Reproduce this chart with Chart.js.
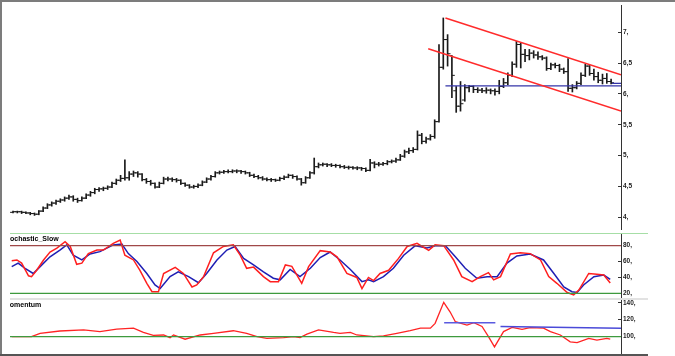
<!DOCTYPE html>
<html><head><meta charset="utf-8">
<script src="https://cdn.jsdelivr.net/npm/chart.js@4.4.1/dist/chart.umd.min.js"></script>
<style>
body{margin:0;width:675px;height:356px;overflow:hidden;background:#fff;position:relative;font-family:"Liberation Sans",Arial,sans-serif}
.abs{position:absolute}
canvas{position:absolute;left:0}
.lbl{position:absolute;left:10px;width:90px;height:9px;overflow:hidden;font:bold 7px "Liberation Sans",Arial,sans-serif;line-height:9px;color:#000;white-space:nowrap}
</style></head><body>
<div class="abs" style="left:0;top:0;width:675px;height:2px;background:#7c7c7c"></div>
<div class="abs" style="left:0;top:0;width:2px;height:356px;background:#7c7c7c"></div>
<div class="abs" style="left:0;top:354px;width:648px;height:2px;background:#555"></div>
<div class="abs" style="left:10px;top:233px;width:638px;height:1px;background:#a6dea6"></div>
<div class="abs" style="left:10px;top:298px;width:638px;height:2px;background:#e2e2e2"></div>
<canvas id="cPrice" width="648" height="234" style="top:0"></canvas>
<canvas id="cStoch" width="648" height="64" style="top:234px"></canvas>
<canvas id="cMom" width="648" height="54" style="top:300px"></canvas>
<div class="lbl" style="top:234px"><span style="margin-left:-7px">Stochastic_Slow</span></div>
<div class="lbl" style="top:300px"><span style="margin-left:-6px">Momentum</span></div>
<script>
// ---------- DATA ----------
const barCount = 140;
const open = [4.08,4.09,4.09,4.08,4.07,4.06,4.05,4.10,4.15,4.20, 4.23,4.26,4.28,4.31,4.33,4.29,4.27,4.31,4.36,4.40,
 4.45,4.46,4.47,4.49,4.55,4.60,4.63,4.64,4.70,4.72, 4.70,4.61,4.58,4.55,4.49,4.55,4.62,4.62,4.61,4.60,
 4.55,4.52,4.49,4.50,4.52,4.57,4.62,4.66,4.72,4.73, 4.74,4.74,4.75,4.75,4.74,4.72,4.68,4.66,4.64,4.62,
 4.61,4.61,4.60,4.63,4.65,4.68,4.66,4.62,4.56,4.64, 4.72,4.82,4.85,4.86,4.85,4.84,4.84,4.82,4.81,4.81,
 4.80,4.80,4.79,4.76,4.88,4.86,4.86,4.87,4.90,4.91, 4.93,4.99,5.06,5.08,5.10,5.33,5.23,5.27,5.31,5.55,
 6.43,6.88,6.62,6.05,5.80,5.90,6.10,6.12,6.07,6.06, 6.05,6.06,6.05,6.04,6.12,6.18,6.30,6.48,6.80,6.64,
 6.62,6.66,6.63,6.60,6.58,6.41,6.47,6.46,6.40,6.36, 6.09,6.10,6.17,6.30,6.45,6.33,6.28,6.22,6.25,6.20];
const high = [4.10,4.10,4.10,4.09,4.08,4.07,4.11,4.17,4.22,4.25, 4.28,4.30,4.33,4.36,4.35,4.31,4.33,4.38,4.42,4.47,
 4.48,4.49,4.51,4.57,4.62,4.68,4.93,4.74,4.75,4.74, 4.71,4.63,4.60,4.56,4.57,4.65,4.65,4.64,4.63,4.61,
 4.56,4.53,4.52,4.54,4.59,4.64,4.68,4.74,4.75,4.76, 4.77,4.77,4.77,4.76,4.75,4.73,4.70,4.68,4.66,4.64,
 4.63,4.62,4.65,4.67,4.70,4.69,4.67,4.63,4.66,4.74, 4.96,4.88,4.88,4.87,4.87,4.86,4.85,4.84,4.83,4.82,
 4.82,4.81,4.80,4.94,4.90,4.89,4.89,4.92,4.93,4.96, 5.02,5.09,5.12,5.13,5.40,5.36,5.30,5.34,5.58,6.80,
 7.23,6.96,6.62,6.12,6.20,6.15,6.14,6.13,6.10,6.09, 6.10,6.08,6.08,6.22,6.25,6.34,6.52,6.85,6.82,6.72,
 6.72,6.70,6.68,6.62,6.60,6.50,6.50,6.48,6.42,6.57, 6.15,6.20,6.34,6.48,6.46,6.40,6.35,6.32,6.33,6.24];
const low = [4.07,4.07,4.06,4.06,4.04,4.03,4.04,4.09,4.14,4.18, 4.21,4.24,4.26,4.29,4.26,4.24,4.26,4.30,4.34,4.38,
 4.42,4.43,4.45,4.48,4.53,4.58,4.60,4.60,4.66,4.65, 4.59,4.55,4.52,4.47,4.48,4.54,4.59,4.58,4.57,4.53,
 4.50,4.47,4.47,4.48,4.51,4.56,4.60,4.65,4.70,4.71, 4.72,4.72,4.72,4.71,4.70,4.66,4.64,4.62,4.60,4.59,
 4.58,4.58,4.59,4.61,4.64,4.63,4.60,4.52,4.55,4.63, 4.70,4.80,4.83,4.82,4.82,4.81,4.80,4.79,4.78,4.78,
 4.77,4.76,4.74,4.75,4.80,4.83,4.84,4.85,4.88,4.89, 4.92,4.97,5.03,5.05,5.09,5.19,5.20,5.25,5.28,5.54,
 6.40,6.45,5.94,5.70,5.72,5.88,6.03,6.02,6.02,6.02, 6.01,6.00,5.98,6.00,6.10,6.15,6.28,6.43,6.42,6.52,
 6.55,6.58,6.56,6.55,6.38,6.39,6.42,6.36,6.33,6.04, 6.03,6.08,6.15,6.28,6.30,6.22,6.18,6.16,6.17,6.16];
const close = [4.09,4.09,4.08,4.07,4.06,4.05,4.10,4.15,4.20,4.23, 4.26,4.28,4.31,4.33,4.29,4.27,4.31,4.36,4.40,4.45,
 4.46,4.47,4.49,4.55,4.60,4.63,4.64,4.70,4.72,4.70, 4.61,4.58,4.55,4.49,4.55,4.62,4.62,4.61,4.60,4.55,
 4.52,4.49,4.50,4.52,4.57,4.62,4.66,4.72,4.73,4.74, 4.74,4.75,4.75,4.74,4.72,4.68,4.66,4.64,4.62,4.61,
 4.61,4.60,4.63,4.65,4.68,4.66,4.62,4.56,4.64,4.72, 4.82,4.85,4.86,4.85,4.84,4.84,4.82,4.81,4.81,4.80,
 4.80,4.79,4.76,4.88,4.86,4.86,4.87,4.90,4.91,4.93, 4.99,5.06,5.08,5.10,5.33,5.23,5.27,5.31,5.55,6.43,
 6.88,6.65,6.30,5.80,5.84,6.10,6.12,6.07,6.06,6.05, 6.06,6.05,6.04,6.12,6.18,6.30,6.48,6.80,6.64,6.62,
 6.66,6.63,6.60,6.58,6.41,6.47,6.46,6.40,6.36,6.09, 6.10,6.17,6.30,6.45,6.33,6.28,6.22,6.25,6.20,6.18];

// trend lines (bar position, price)
const upperChannel = [[100.5,7.23],[141.3,6.31]];
const lowerChannel = [[96.5,6.73],[141.3,5.72]];
const supportLine  = [[100.5,6.13],[141.3,6.13]];
const supportLine2 = [[139.2,6.17],[141.3,6.17]];

// Stochastic slow (bar position, value)
const stochKPos = [-0.3,0.9,2.0,3.6,4.3,5.5,7.1,8.6,10.2,12.1,13.3,14.8,16,17.5,19.5,21,23.3,24.9,26,28,29.5,31.1,32.3,33.8,35,37.7,39.6,41.6,42.7,44.3,46.6,48.9,51.2,52.8,54.3,55.9,58.2,59.8,61.7,63.3,64.8,67.1,68.7,71.4,73.7,75.3,77.6,79.9,81.1,82.6,83.8,85.3,87.3,89.6,91.6,93.9,96.6,98.1,100.1,102.4,104.3,106.7,108.6,110.5,111.7,113.3,115.6,117.9,120.2,122.6,124.5,126.4,128.8,130.3,131.5,133.8,135.7,137.3,138.8];
const stochK    = [61,62,58,42,41,49,62,72,77,85,79,56.5,58,70,74.5,74.5,83,87,68,62,49,32.6,22,22,45,52.7,45,28,30.5,41,71,79,81,68,51.5,53,41,34.7,34.7,55.7,54,32.6,53.6,73.7,72,66,45,40,26,40,36,45,49,64,79,83,74,81,80,62,41,34.7,41,46,37,41,69.5,71,70,62,41,32.6,21,18,24,45,44,43,33];
const stochDPos = [-0.3,1.2,2.8,4.7,6.3,8.6,10.9,12.5,14,16,17.9,20.2,23.3,25.3,26.8,28.8,31.1,33,34.2,36.5,38.4,40.8,43.1,45,47.4,49.7,51.6,53.6,55.9,58.2,60.5,62.1,64.4,66.7,69.1,71.4,73.7,76,78.4,81.1,82.6,83.8,86.1,88.4,90.8,93.5,96.2,98.1,100.5,102.8,105.1,107.8,110.2,112.5,114.8,117.1,120.2,123.3,125.7,128,129.9,131.1,132.6,135,137.3,138.8];
const stochD    = [53.6,58,51.5,45,53.6,66,74.5,81,68,62,69.5,72.5,81,82,70,60,45,30.5,26,41,47,41,33.4,45,62,74.5,79,64,55.7,47,39,37,50,41,51.5,65,72,62,50,34.7,37,34.7,41,51.5,68,80,77,80,80,66,51.5,39,41,41,58,67,69.5,62,45,28,22,21,30.5,41,43,37.6];
const stochTicks = [20,40,60,80];
const stochTickLabels = ['20,','40,','60,','80,'];
const stochUpper = 80, stochLower = 20;

// Momentum (bar position, value)
const momPos = [-0.3,4.3,6.3,10.9,16.4,20.2,24.1,28,30.3,32.6,35,36.5,37.3,40,43.5,46.6,51.2,54.3,56.7,59,62.9,65.2,66.7,68.3,71,74.5,76,78.4,79.9,83.8,86.1,89.2,92.3,94.7,97,98.1,100.1,101.6,102.8,105.5,107.1,109,110.5,111.9,114,116,118.3,120.2,123.3,124.9,127.2,129.5,131.1,133.8,135.7,138,138.8];
const momVal = [100,100,104,106.7,108,106,109,110,105,101.5,102,98.8,102,97,102,104,107,104,100,98,99,100,98.8,103,108,105,104,105,102,100,101,104,107,110,110,115.7,140.5,129,117.6,113.7,116.5,112,100,88,106,111,108.6,110.6,110,106,102,94,93,98,96,98,97];
const momBase = 100;
const momLine1 = [[100.2,116.5],[112.1,116.5]];
const momLine2 = [[113.3,112],[141.3,110]];
const momTicks = [100,120,140];
const momTickLabels = ['100,','120,','140,'];

const priceTicks = [4,4.5,5,5.5,6,6.5,7];
const priceTickLabels = ['4,','4,5','5,','5,5','6,','6,5','7,'];

// ---------- HELPERS ----------
const X_MIN = -0.7, X_MAX = 141.3, AXIS_W = 27;
const idx = Array.from({length: barCount}, (_, i) => i);
const tickFont = {family: 'Liberation Sans', size: 6.5, weight: 'bold'};
const pts = arr => arr.map(p => ({x: p[0], y: p[1]}));
const zip = (xs, ys) => xs.map((x, i) => ({x, y: ys[i]}));

function yScale(min, max, ticks, labels) {
  return {
    position: 'right', min, max,
    afterBuildTicks: s => { s.ticks = ticks.map(v => ({value: v})); },
    afterFit: s => { s.width = AXIS_W; s.paddingTop = 0; s.paddingBottom = 0; },
    grid: {drawOnChartArea: false, color: '#333', tickLength: -3},
    border: {color: '#333', width: 1},
    ticks: {font: tickFont, color: '#222', padding: 5,
      callback: v => { const k = ticks.indexOf(v); return k >= 0 ? labels[k] : ''; }}
  };
}
const xScale = {type: 'linear', min: X_MIN, max: X_MAX, display: false, offset: false};
const baseOpts = (pad, y) => ({
  responsive: false, animation: false, events: [],
  layout: {padding: pad},
  plugins: {legend: {display: false}, tooltip: {enabled: false}},
  scales: {x: xScale, y}
});
const lineDs = (data, color, w) => ({type: 'line', data, borderColor: color, borderWidth: w, pointRadius: 0, fill: false, tension: 0});

// ---------- PRICE ----------
new Chart(document.getElementById('cPrice'), {
  type: 'bar',
  data: {datasets: [
    lineDs(pts(upperChannel), '#ff2b2b', 1.5),
    lineDs(pts(lowerChannel), '#ff2b2b', 1.5),
    lineDs(pts(supportLine), '#3535a8', 1.3),
    lineDs(pts(supportLine2), '#3535a8', 1.3),
    {type: 'bar', data: idx.map(i => ({x: i, y: [low[i], high[i]]})), backgroundColor: '#1a1a1a', borderWidth: 0, barThickness: 1, grouped: false},
    {type: 'line', showLine: false, data: idx.map(i => ({x: i - 0.35, y: open[i]})), pointStyle: 'line', pointRadius: 1.4, pointBorderWidth: 1, pointBorderColor: '#1a1a1a'},
    {type: 'line', showLine: false, data: idx.map(i => ({x: i + 0.35, y: close[i]})), pointStyle: 'line', pointRadius: 1.4, pointBorderWidth: 1, pointBorderColor: '#1a1a1a'}
  ]},
  options: baseOpts({left: 10, top: 3, bottom: 1, right: 0}, yScale(3.81, 7.44, priceTicks, priceTickLabels))
});

// ---------- STOCHASTIC ----------
new Chart(document.getElementById('cStoch'), {
  type: 'line',
  data: {datasets: [
    lineDs([{x: X_MIN, y: stochUpper}, {x: X_MAX, y: stochUpper}], '#a04848', 1.3),
    lineDs([{x: X_MIN, y: stochLower}, {x: X_MAX, y: stochLower}], '#3e9a3e', 1.3),
    lineDs(zip(stochKPos, stochK), '#ff1f1f', 1.5),
    lineDs(zip(stochDPos, stochD), '#1f1fb4', 1.5)
  ]},
  options: baseOpts({left: 10, top: 0, bottom: 0, right: 0}, yScale(14.1, 94.7, stochTicks, stochTickLabels))
});

// ---------- MOMENTUM ----------
new Chart(document.getElementById('cMom'), {
  type: 'line',
  data: {datasets: [
    lineDs([{x: X_MIN, y: momBase}, {x: X_MAX, y: momBase}], '#3e9a3e', 1.3),
    lineDs(pts(momLine1), '#5a5ae0', 1.5),
    lineDs(pts(momLine2), '#4a4ad8', 1.5),
    lineDs(zip(momPos, momVal), '#ff2424', 1.3)
  ]},
  options: baseOpts({left: 10, top: 0, bottom: 0, right: 0}, yScale(79.6, 143.2, momTicks, momTickLabels))
});
</script>
</body></html>
